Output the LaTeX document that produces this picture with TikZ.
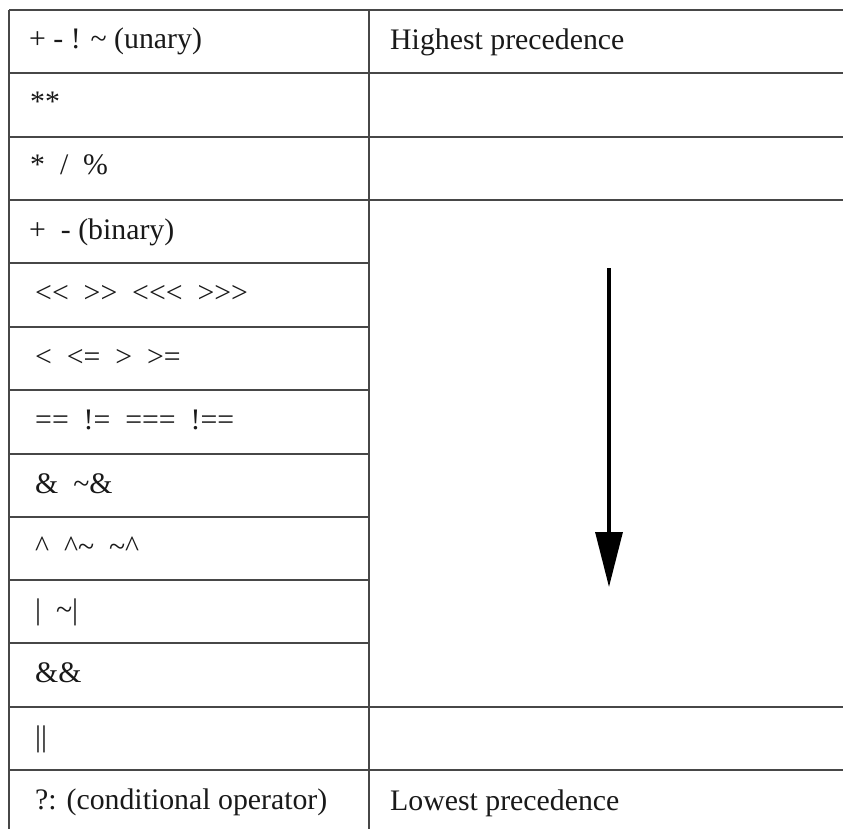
\documentclass[tikz,border=0pt]{standalone}
\usepackage{fontspec}
\setmainfont{Liberation Serif}
\usetikzlibrary{arrows.meta}
\begin{document}
\begin{tikzpicture}[x=1pt,y=-1pt,
  cell/.style={anchor=base west, inner sep=0pt, text=black!90, font=\fontsize{29.8}{36}\selectfont},
  rule/.style={draw=black!72, line width=2pt},
  arr/.style={draw=black, line width=3.2pt, -{Triangle[width=27pt,length=55pt]}}
  ]
\useasboundingbox (0,0) rectangle (843,829);
\fill[white] (0,0) rectangle (843,829);
% table rules
\draw[rule] (9,10) -- (843,10);
\draw[rule] (9,10) -- (9,829);
\draw[rule] (369,10) -- (369,829);
\foreach \yy in {73,137,200,707,770} \draw[rule] (9,\yy) -- (843,\yy);
\foreach \yy in {263,327,390,454,517,580,643} \draw[rule] (9,\yy) -- (369,\yy);
% left column
\node[cell] (r1)  at (29,49)  {+ - ! \textasciitilde\ (unary)};
\node[cell] (r2)  at (30,112) {**};
\node[cell] (r3)  at (30,175) {*\ \ /\ \ \%};
\node[cell] (r4)  at (29,240) {+\ \ - (binary)};
\node[cell] (r5)  at (35,302) {{<}{<}\ \ {>}{>}\ \ {<}{<}{<}\ \ {>}{>}{>}};
\node[cell] (r6)  at (35,366) {<\ \ {<}=\ \ >\ \ {>}=};
\node[cell] (r7)  at (35,429) {==\ \ !=\ \ ===\ \ !==};
\node[cell] (r8)  at (35,493) {\&\ \ \textasciitilde\&};
\node[cell] (r9)  at (35,556) {\textasciicircum\ \ \textasciicircum\textasciitilde\ \ \textasciitilde\textasciicircum};
\node[cell] (r10) at (35,619) {|\ \ \textasciitilde|};
\node[cell] (r11) at (35,682) {\&\&};
\node[cell] (r12) at (35,746) {||};
\node[cell] (r13) at (35,809) {?: (conditional operator)};
% right column
\node[cell] (hi) at (390,50)  {Highest precedence};
\node[cell] (lo) at (390,810) {Lowest precedence};
% arrow
\coordinate (atop) at (609,268);
\coordinate (abot) at (609,587);
\draw[arr] (atop) -- (abot);
\end{tikzpicture}
\end{document}
